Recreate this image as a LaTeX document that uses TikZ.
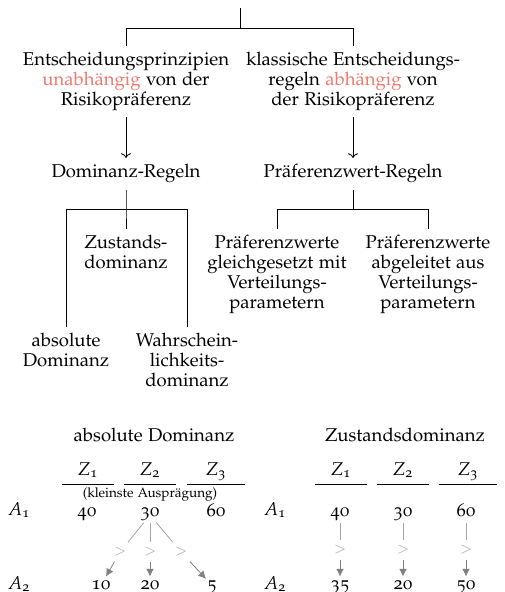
\documentclass[tikz,border=0pt]{standalone}
\usepackage[T1]{fontenc}
\usepackage[osf]{mathpazo}
\usepackage{amsmath}
\usetikzlibrary{arrows.meta}
\definecolor{hired}{RGB}{240,120,110}
\definecolor{grayarrow}{RGB}{128,128,128}
\definecolor{grayline}{RGB}{165,165,165}

\begin{document}
\begin{tikzpicture}[x=0.54pt,y=-0.54pt,
    line width=0.45pt,
    txt/.style = {align=center, anchor=north,% text of the tree
                  font=\fontsize{10}{10.7}\selectfont},
  title/.style = {anchor=base, inner sep=0pt},
   head/.style = {anchor=base, text depth=4.9pt, inner sep=0pt},% column heads of tables
    val/.style = {anchor=base, text height=6pt, text depth=2pt, inner sep=0.5pt},
   valtop/.style = {val, text height=3pt},% first row, close under the heads
     gt/.style = {text=grayline, inner sep=2.6pt, font=\footnotesize},
  gline/.style = {draw=grayline, shorten <=1.2pt},
   garr/.style = {draw=grayarrow, -{Latex[length=4.2pt,width=4.2pt]}},
                        ]
\useasboundingbox (0,0) rectangle (504,592);
%% tree
\coordinate (top) at (240,8);
\coordinate (j0)  at (240,28);
\node[txt] (unab) at (126,46) {Entscheidungsprinzipien\\ \textcolor{hired}{unabh\"angig} von der\\ Risikopr\"aferenz};
\node[txt] (abh)  at (353,46) {klassische Entscheidungs-\\ regeln \textcolor{hired}{abh\"angig} von\\ der Risikopr\"aferenz};
\node[txt] (dom)  at (126,158) {Dominanz-Regeln};
\node[txt] (pref) at (353,158) {Pr\"aferenzwert-Regeln};
\coordinate (j1) at (126,209);
\coordinate (j2) at (353,209);
\node[txt] (zust) at (126,229) {Zustands-\\ dominanz};
\node[txt] (absd) at (66,327) {absolute\\ Dominanz};
\node[txt] (wahr) at (187,327) {Wahrschein-\\ lichkeits-\\ dominanz};
\node[txt] (glei) at (277,229) {Pr\"aferenzwerte\\ gleichgesetzt mit\\ Verteilungs-\\ parametern};
\node[txt] (ablt) at (428,229) {Pr\"aferenzwerte\\ abgeleitet aus\\ Verteilungs-\\ parametern};
\draw (top) -- (j0);
\draw (j0) -| (unab.north);
\draw (j0) -| (abh.north);
\draw[->] (unab.south) -- (dom.north);
\draw[->] (abh.south) -- (pref.north);
\draw (dom.south) -- (j1) -- (zust.north);
\draw (j1) -| (absd.north);
\draw (j1) -| (wahr.north);
\draw (pref.south) -- (j2);
\draw (j2) -| (glei.north);
\draw (j2) -| (ablt.north);
%% table: absolute Dominanz
\node[title] (tabA) at (154,441) {absolute Dominanz};
\foreach \n/\x/\w in {1/88/51,2/150/51,3/216/58}{
    \node[head, minimum width=\w*0.54pt] (aZ\n) at (\x,475) {$Z_{\text{\n}}$};
    \draw (aZ\n.south west) -- (aZ\n.south east);
}
\node[anchor=base, inner sep=0pt, font=\fontsize{7.3}{8.5}\selectfont] (klein) at (150,497) {(kleinste Auspr\"agung)};
\node[val] (aA1) at (19,515) {$A_{\text{1}}$};
\node[val] (aA2) at (19,589) {$A_{\text{2}}$};
\foreach \n/\x/\v in {1/87/40,2/150/30,3/216/60}
    \node[valtop] (a1\n) at (\x,516) {\v};
\foreach \n/\x/\v in {1/101/10,2/150/20,3/212/5}
    \node[val] (a2\n) at (\x,589) {\v};
\node[gt] (ga1) at (120,552) {$>$};
\node[gt] (ga2) at (150,552) {$>$};
\node[gt] (ga3) at (181,552) {$>$};
\foreach \n in {1,2,3}{
    \draw[gline] (a12) -- (ga\n);
    \draw[garr] (ga\n) -- (a2\n);
}
%% table: Zustandsdominanz
\node[title] (tabB) at (405,441) {Zustandsdominanz};
\foreach \n/\x/\w in {1/341/52,2/403/51,3/468/58}{
    \node[head, minimum width=\w*0.54pt] (bZ\n) at (\x,475) {$Z_{\text{\n}}$};
    \draw (bZ\n.south west) -- (bZ\n.south east);
}
\node[val] (bA1) at (275,515) {$A_{\text{1}}$};
\node[val] (bA2) at (275,589) {$A_{\text{2}}$};
\foreach \n/\x/\u/\v in {1/340/40/35,2/403/30/20,3/466/60/50}{
    \node[valtop] (b1\n) at (\x,516) {\u};
    \node[val] (b2\n) at (\x,589) {\v};
    \node[gt] (gb\n) at (\x,550) {$>$};
    \draw[gline] (b1\n) -- (gb\n);
    \draw[garr] (gb\n) -- (b2\n);
}
\end{tikzpicture}
\end{document}
